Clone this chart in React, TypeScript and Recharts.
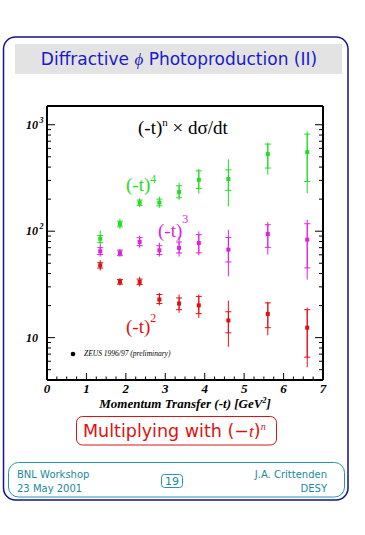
import { ComposedChart, Scatter, ErrorBar, XAxis, YAxis } from "recharts";

const X_VALUES = [1.35, 1.85, 2.35, 2.85, 3.35, 3.85, 4.6, 5.6, 6.6];

// (-t)^4
const T4_VALUE = [85, 117, 185, 186, 233, 304, 309, 530, 553];
const T4_STAT_LO = [78, 110, 175, 173, 206, 251, 242, 392, 293];
const T4_STAT_HI = [91, 124, 196, 200, 267, 369, 377, 658, 816];
const T4_TOT_LO = [73, 105, 168, 166, 197, 225, 171, 339, 228];
const T4_TOT_HI = [101, 131, 204, 211, 285, 385, 475, 681, 863];

// (-t)^3
const T3_VALUE = [64.7, 62.5, 79.3, 66.1, 69.6, 77.5, 67.1, 94.1, 83.2];
const T3_STAT_LO = [60.3, 58.9, 73.1, 60.3, 62.4, 62.5, 51.4, 70.5, 45.2];
const T3_STAT_HI = [70, 66.4, 86.9, 73.1, 79.2, 92.7, 87.4, 115, 117.5];
const T3_TOT_LO = [57.7, 57.7, 70, 57.7, 57.7, 59.3, 37.7, 60.2, 35.1];
const T3_TOT_HI = [74.6, 67.8, 90.8, 78, 88.7, 99.6, 103, 122, 128];

// (-t)^2
const T2_VALUE = [47.8, 33.4, 33.4, 22.8, 20.9, 20.1, 14.5, 16.7, 12.4];
const T2_STAT_LO = [45, 31.8, 31.5, 20.9, 18.3, 16.8, 11.1, 12.4, 6.55];
const T2_STAT_HI = [50.6, 35.1, 35.5, 25.4, 23.6, 24.4, 17.5, 21.2, 18.3];
const T2_TOT_LO = [42.6, 30.8, 30.2, 20.1, 17.1, 15.3, 8.2, 10.5, 5.27];
const T2_TOT_HI = [53.5, 36.2, 37.4, 26.3, 25.4, 25.4, 22.3, 21.7, 19.1];

const X_TICKS = [
  0, 0.25, 0.5, 0.75, 1, 1.25, 1.5, 1.75, 2, 2.25, 2.5, 2.75, 3, 3.25, 3.5,
  3.75, 4, 4.25, 4.5, 4.75, 5, 5.25, 5.5, 5.75, 6, 6.25, 6.5, 6.75, 7,
];
const Y_TICKS = [
  4, 5, 6, 7, 8, 9, 10, 20, 30, 40, 50, 60, 70, 80, 90, 100, 200, 300, 400,
  500, 600, 700, 800, 900, 1000,
];

const GREEN = "#22dd22";
const MAGENTA = "#dd22dd";
const RED = "#dd1111";
const SERIF = "'Liberation Serif', 'DejaVu Serif', serif";
const SANS = "'DejaVu Sans', Verdana, sans-serif";

function build(v: number[], sLo: number[], sHi: number[], tLo: number[], tHi: number[]) {
  return X_VALUES.map((x, i) => ({
    x,
    y: v[i],
    stat: [v[i] - sLo[i], sHi[i] - v[i]],
    tot: [v[i] - tLo[i], tHi[i] - v[i]],
  }));
}

const t4 = build(T4_VALUE, T4_STAT_LO, T4_STAT_HI, T4_TOT_LO, T4_TOT_HI);
const t3 = build(T3_VALUE, T3_STAT_LO, T3_STAT_HI, T3_TOT_LO, T3_TOT_HI);
const t2 = build(T2_VALUE, T2_STAT_LO, T2_STAT_HI, T2_TOT_LO, T2_TOT_HI);

const isMajorLog = (v: number) => Math.abs(Math.log10(v) - Math.round(Math.log10(v))) < 1e-9;

const BottomTick = ({ x, y, payload }: any) => {
  const major = Number.isInteger(payload.value);
  return (
    <g>
      <line x1={x} y1={y} x2={x} y2={y - (major ? 7 : 3.5)} stroke="#000" />
      {major && (
        <text x={x} y={y + 13} textAnchor="middle" fontFamily={SERIF} fontWeight="bold" fontStyle="italic" fontSize={13}>
          {payload.value}
        </text>
      )}
    </g>
  );
};

const TopTick = ({ x, y, payload }: any) => {
  const major = Number.isInteger(payload.value);
  return <line x1={x} y1={y} x2={x} y2={y + (major ? 7 : 3.5)} stroke="#000" />;
};

const LeftTick = ({ x, y, payload }: any) => {
  const v = payload.value;
  const major = isMajorLog(v);
  const exp = Math.round(Math.log10(v));
  return (
    <g>
      <line x1={x} y1={y} x2={x + (major ? 8 : 4)} y2={y} stroke="#000" />
      {major && (
        <text x={x - 21} y={y + 4} fontFamily={SERIF} fontWeight="bold" fontStyle="italic" fontSize={12}>
          10
          {exp > 1 && (
            <tspan dx={1.5} dy={-6} fontSize={8}>
              {exp}
            </tspan>
          )}
        </text>
      )}
    </g>
  );
};

const RightTick = ({ x, y, payload }: any) => {
  const major = isMajorLog(payload.value);
  return <line x1={x} y1={y} x2={x - (major ? 8 : 4)} y2={y} stroke="#000" />;
};

const dot = (color: string) => (p: any) => <rect x={p.cx - 2} y={p.cy - 2} width={4} height={4} fill={color} />;

export default function App() {
  return (
    <div style={{ position: "absolute", left: 0, top: 0, width: 365, height: 535, background: "#fff" }}>
      <svg width={365} height={535} style={{ position: "absolute", left: 0, top: 0 }}>
        <rect x={3.5} y={37} width={344.5} height={463} rx={12} fill="none" stroke="#14148c" strokeWidth={1.5} />
        <rect x={15} y={44} width={327} height={30} fill="#e3e3e3" />
        <text x={179} y={65} textAnchor="middle" fontFamily={SANS} fontSize={17} fill="#1a1ac8">
          Diffractive <tspan fontFamily={SERIF} fontStyle="italic">ϕ</tspan> Photoproduction (II)
        </text>

        <rect x={76.5} y={416.5} width={200} height={28.5} rx={6} fill="none" stroke={RED} />
        <text x={83} y={437} fontFamily={SANS} fontSize={17.5} fill={RED}>
          Multiplying with (−<tspan fontFamily={SERIF} fontStyle="italic">t</tspan>)
          <tspan dy={-7} fontSize={10} fontFamily={SERIF} fontStyle="italic">n</tspan>
        </text>

        <rect x={8.5} y={462.5} width={336} height={34.5} rx={10} fill="none" stroke="#2a92aa" />
        <g fontFamily={SANS} fontSize={10} fill="#1a8aa0">
          <text x={17} y={478}>BNL Workshop</text>
          <text x={17} y={492}>23 May 2001</text>
          <text x={327} y={478} textAnchor="end">J.A. Crittenden</text>
          <text x={327} y={492} textAnchor="end">DESY</text>
          <rect x={161.5} y={474.5} width={21} height={13} rx={3} fill="none" stroke="#2a92aa" />
          <text x={172} y={485} textAnchor="middle" fontSize={11}>19</text>
        </g>

        <text x={138} y={134} fontFamily={SERIF} fontSize={19}>
          (-t)<tspan dy={-8} fontSize={11}>n</tspan>
          <tspan dy={8}> × dσ/dt</tspan>
        </text>
        <text x={126} y={191} fontFamily={SERIF} fontSize={19} fill={GREEN}>
          (-t)<tspan dy={-8} fontSize={12}>4</tspan>
        </text>
        <text x={158} y={237} fontFamily={SERIF} fontSize={19} fill={MAGENTA}>
          (-t)<tspan dy={-14} fontSize={12}>3</tspan>
        </text>
        <text x={126} y={333} fontFamily={SERIF} fontSize={19} fill={RED}>
          (-t)<tspan dy={-11} fontSize={12}>2</tspan>
        </text>

        <circle cx={73} cy={354} r={2.3} fill="#000" />
        <text x={84} y={356} fontFamily={SERIF} fontStyle="italic" fontSize={7.5}>
          ZEUS 1996/97 (preliminary)
        </text>

        <text x={185} y={408} textAnchor="middle" fontFamily={SERIF} fontWeight="bold" fontStyle="italic" fontSize={13}>
          Momentum Transfer (-t) [GeV<tspan dy={-5} fontSize={8}>2</tspan>
          <tspan dy={5}>]</tspan>
        </text>
      </svg>

      <div style={{ position: "absolute", left: 0, top: 0 }}>
        <ComposedChart width={365} height={535} margin={{ top: 105, right: 41, bottom: 115, left: 7 }}>
          <XAxis
            xAxisId="bottom"
            dataKey="x"
            type="number"
            domain={[0, 7]}
            ticks={X_TICKS}
            interval={0}
            allowDataOverflow
            height={40}
            tickSize={0}
            tickMargin={0}
            tickLine={false}
            tick={<BottomTick />}
            axisLine={{ stroke: "#000", strokeWidth: 2 }}
          />
          <XAxis
            xAxisId="top"
            orientation="top"
            type="number"
            domain={[0, 7]}
            ticks={X_TICKS}
            interval={0}
            allowDataOverflow
            height={1}
            tickSize={0}
            tickMargin={0}
            tickLine={false}
            tick={<TopTick />}
            axisLine={{ stroke: "#000", strokeWidth: 2 }}
          />
          <YAxis
            yAxisId="left"
            dataKey="y"
            type="number"
            scale="log"
            domain={[4, 1500]}
            ticks={Y_TICKS}
            interval={0}
            allowDataOverflow
            width={40}
            tickSize={0}
            tickMargin={0}
            tickLine={false}
            tick={<LeftTick />}
            axisLine={{ stroke: "#000", strokeWidth: 2 }}
          />
          <YAxis
            yAxisId="right"
            orientation="right"
            type="number"
            scale="log"
            domain={[4, 1500]}
            ticks={Y_TICKS}
            interval={0}
            allowDataOverflow
            width={1}
            tickSize={0}
            tickMargin={0}
            tickLine={false}
            tick={<RightTick />}
            axisLine={{ stroke: "#000", strokeWidth: 2 }}
          />
          {[
            { data: t4, color: GREEN, name: "t4" },
            { data: t3, color: MAGENTA, name: "t3" },
            { data: t2, color: RED, name: "t2" },
          ].map((s) => (
            <Scatter
              key={s.name}
              name={s.name}
              data={s.data}
              dataKey="y"
              xAxisId="bottom"
              yAxisId="left"
              isAnimationActive={false}
              shape={dot(s.color)}
            >
              <ErrorBar dataKey="tot" direction="y" width={0} stroke={s.color} strokeWidth={1} isAnimationActive={false} />
              <ErrorBar dataKey="stat" direction="y" width={3} stroke={s.color} strokeWidth={1} isAnimationActive={false} />
            </Scatter>
          ))}
        </ComposedChart>
      </div>
    </div>
  );
}
